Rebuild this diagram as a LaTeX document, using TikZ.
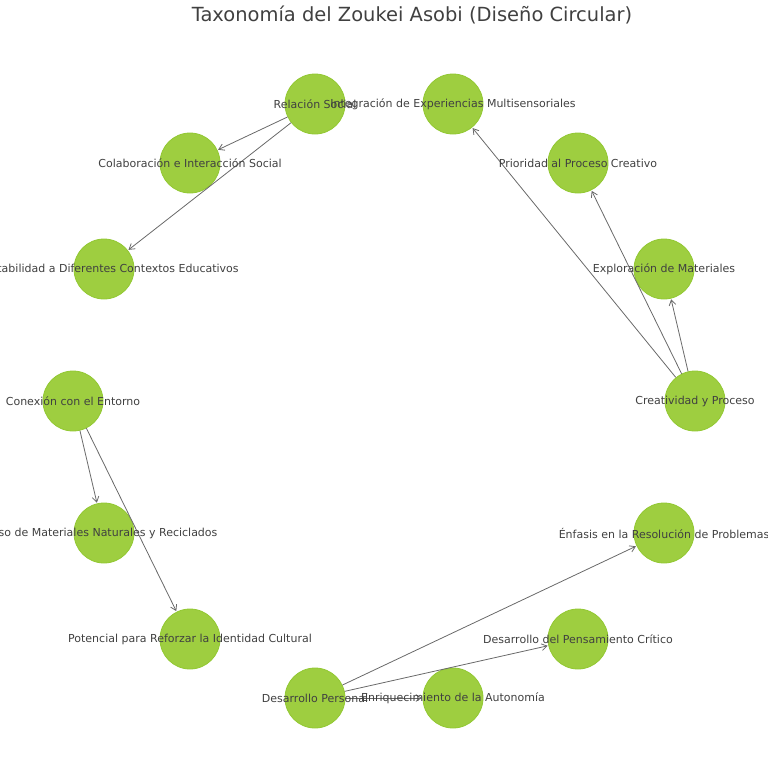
\documentclass[tikz,border=0pt]{standalone}
\usepackage{fontspec}
\setmainfont{DejaVu Sans}
\usetikzlibrary{arrows.meta}

\definecolor{leaf}{RGB}{158,206,64}
\definecolor{leafedge}{RGB}{146,200,50}
\definecolor{ink}{RGB}{64,64,64}
\definecolor{wire}{RGB}{105,105,105}

\tikzset{
  topic/.style={circle,fill=leaf,draw=leafedge,line width=0.6pt,minimum size=45pt,inner sep=0pt},
  tag/.style={text=ink,font=\fontsize{8.25}{9.8}\selectfont,inner sep=0pt},
  link/.style={draw=wire,line width=0.6pt,-{Straight Barb[length=4pt,width=5pt]},shorten >=0.5pt}
}

\begin{document}
\begin{tikzpicture}[x=0.75pt,y=-0.75pt]
  \useasboundingbox (0,0) rectangle (768,768);
  \clip (0,0) rectangle (768,768);
  % title
  \node[text=ink,font=\fontsize{14.6}{17}\selectfont] (title) at (412,15) {Taxonomía del Zoukei Asobi (Diseño Circular)};
  % circles
  \node[topic] (rs)  at (315,104) {};
  \node[topic] (ie)  at (453,104) {};
  \node[topic] (pp)  at (578,163) {};
  \node[topic] (em)  at (664,269) {};
  \node[topic] (cp)  at (695,401) {};
  \node[topic] (er)  at (664,533) {};
  \node[topic] (dpc) at (578,639) {};
  \node[topic] (ea)  at (453,698) {};
  \node[topic] (dp)  at (315,698) {};
  \node[topic] (pic) at (190,639) {};
  \node[topic] (um)  at (104,533) {};
  \node[topic] (ce)  at (73,401) {};
  \node[topic] (ad)  at (104,269) {};
  \node[topic] (cis) at (190,163) {};
  % edges
  \draw[link] (rs) -- (cis);
  \draw[link] (rs) -- (ad);
  \draw[link] (cp) -- (ie);
  \draw[link] (cp) -- (pp);
  \draw[link] (cp) -- (em);
  \draw[link] (ce) -- (um);
  \draw[link] (ce) -- (pic);
  \draw[link] (dp) -- (er);
  \draw[link] (dp) -- (dpc);
  \draw[link] (dp) -- (ea);
  % labels
  \node[tag] (rs-t)  at (rs)  {Relación Social};
  \node[tag] (ie-t)  at (ie)  {Integración de Experiencias Multisensoriales};
  \node[tag] (pp-t)  at (pp)  {Prioridad al Proceso Creativo};
  \node[tag] (em-t)  at (em)  {Exploración de Materiales};
  \node[tag] (cp-t)  at (cp)  {Creatividad y Proceso};
  \node[tag] (er-t)  at (er)  {Énfasis en la Resolución de Problemas};
  \node[tag] (dpc-t) at (dpc) {Desarrollo del Pensamiento Crítico};
  \node[tag] (ea-t)  at (ea)  {Enriquecimiento de la Autonomía};
  \node[tag] (dp-t)  at (dp)  {Desarrollo Personal};
  \node[tag] (pic-t) at (pic) {Potencial para Reforzar la Identidad Cultural};
  \node[tag] (um-t)  at (um)  {Uso de Materiales Naturales y Reciclados};
  \node[tag] (ce-t)  at (ce)  {Conexión con el Entorno};
  \node[tag] (ad-t)  at (ad)  {Adaptabilidad a Diferentes Contextos Educativos};
  \node[tag] (cis-t) at (cis) {Colaboración e Interacción Social};
\end{tikzpicture}
\end{document}
